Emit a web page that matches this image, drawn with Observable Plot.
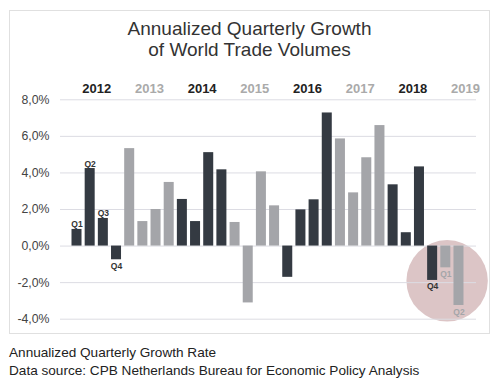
<!DOCTYPE html>
<html><head><meta charset="utf-8">
<script src="https://cdn.jsdelivr.net/npm/d3@7"></script>
<script src="https://cdn.jsdelivr.net/npm/@observablehq/plot@0.6"></script>
<style>
body{margin:0;background:#fff;font-family:"Liberation Sans",Arial,sans-serif;}
#frame{position:absolute;left:9px;top:10px;width:481px;height:324px;box-sizing:border-box;border:1px solid #e0e0e0;z-index:2;pointer-events:none}
#title{position:absolute;left:9px;width:481px;top:18px;text-align:center;font-size:19px;line-height:21px;color:#333;z-index:3}
#chart{position:absolute;left:0;top:0;z-index:1}
#caption{position:absolute;left:9px;top:344px;font-size:13.6px;line-height:17.5px;color:#222}
</style></head>
<body>
<div id="chart"></div>
<div id="frame"></div>
<div id="title">Annualized Quarterly Growth<br>of World Trade Volumes</div>
<div id="caption">Annualized Quarterly Growth Rate<br>Data source: CPB Netherlands Bureau for Economic Policy Analysis</div>
<script>
const years = [2012, 2013, 2014, 2015, 2016, 2017, 2018, 2019];
const quarters = ["Q1", "Q2", "Q3", "Q4"];
const growth = [
  0.91, 4.24, 1.51, -0.75,
  5.33, 1.34, 2.0, 3.48,
  2.55, 1.34, 5.11, 4.17,
  1.29, -3.11, 4.06, 2.2,
  -1.71, 1.98, 2.53, 7.28,
  5.86, 2.91, 4.83, 6.59,
  3.35, 0.73, 4.33, -1.88,
  -1.19, -3.25
];
const yTicks = [-4, -2, 0, 2, 4, 6, 8];
const labeledBars = ["2012Q1", "2012Q2", "2012Q3", "2012Q4", "2018Q4", "2019Q1", "2019Q2"];
// highlight circle around the latest quarters (index position, value)
const highlight = [{pos: 28.1, value: -1.9}];

const darkColor = "#343a42";
const lightColor = "#a4a5a9";
const rows = growth.map((v, i) => {
  const year = years[Math.floor(i / 4)];
  const q = quarters[i % 4];
  return {i, year, q, key: `${year}${q}`, value: v, color: year % 2 === 0 ? darkColor : lightColor};
});
const labeled = rows.filter(d => labeledBars.includes(d.key));
const labelColor = d => d.year % 2 === 0 ? "#333" : "#a4a5a9";

const fmt = d => d.toFixed(1).replace(".", ",") + "%";

const plot = Plot.plot({
  width: 500,
  height: 340,
  marginLeft: 60,
  marginRight: 24,
  marginTop: 99.3,
  marginBottom: 21.3,
  x: {domain: [-1.253, 30.33], axis: null},
  y: {domain: [-4, 8], axis: null},
  color: {type: "identity"},
  style: {fontFamily: "'Liberation Sans', Arial, sans-serif", background: "transparent", overflow: "visible"},
  marks: [
    Plot.dot(highlight, {x: "pos", y: "value", r: 40.7, fill: "#dcc5c6", stroke: "none"}),
    Plot.ruleY(yTicks, {stroke: "#dcdce3", strokeWidth: 1}),
    Plot.axisY({ticks: yTicks, tickSize: 0, tickPadding: 11, tickFormat: fmt, fontSize: 12.3, fill: "#444", label: null}),
    Plot.rect(rows, {x1: d => d.i - 0.38, x2: d => d.i + 0.38, y1: 0, y2: "value", fill: "color"}),
    Plot.text(years, {
      x: (d, i) => i * 4 + 1.5,
      frameAnchor: "top",
      dy: -16.3,
      text: d => String(d),
      fill: d => d % 2 === 0 ? "#222" : "#aaaaaa",
      fontWeight: "bold",
      fontSize: 13
    }),
    Plot.text(labeled.filter(d => d.value >= 0), {
      x: "i", y: "value", text: "q", lineAnchor: "bottom", dy: -2,
      fill: labelColor, fontWeight: "bold", fontSize: 8.5
    }),
    Plot.text(labeled.filter(d => d.value < 0), {
      x: "i", y: "value", text: "q", lineAnchor: "top", dy: 3,
      fill: labelColor, fontWeight: "bold", fontSize: 8.5
    })
  ]
});
document.getElementById("chart").appendChild(plot);
</script>
</body></html>
